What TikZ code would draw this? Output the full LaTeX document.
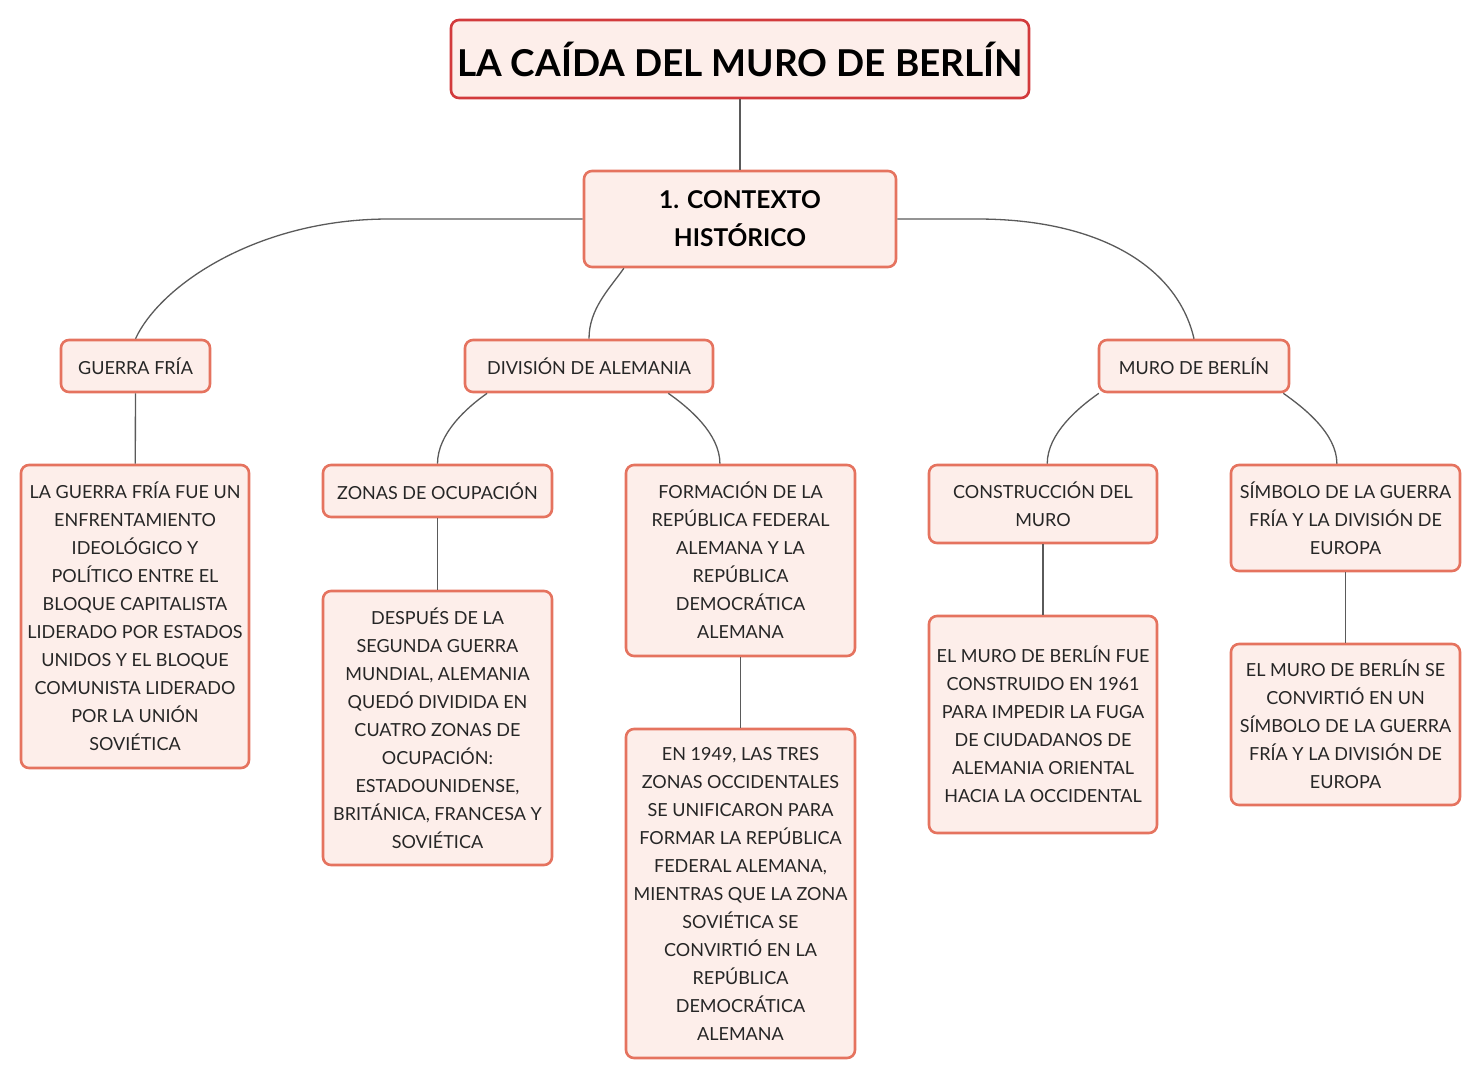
\documentclass[tikz,border=0pt]{standalone}
\usepackage{fontspec}
\setmainfont{Lato}
\usetikzlibrary{arrows}
\definecolor{boxfill}{HTML}{FDEEEA}
\definecolor{boxline}{HTML}{E5735F}
\definecolor{titleline}{HTML}{D23A3C}
\definecolor{linkgray}{HTML}{5A5A5A}

\begin{document}
\begin{tikzpicture}[x=1pt,y=-1pt,
	mapbox/.style={draw=boxline, fill=boxfill, line width=2.6pt, rounded corners=8pt,
		align=center, inner sep=0pt, text=black!85, font=\fontsize{18}{28}\selectfont},
	link/.style={draw=linkgray, line width=1.3pt}]
	\useasboundingbox (0,0) rectangle (1481,1080);
	% title and first level
	\node[mapbox, draw=titleline, minimum width=578pt, minimum height=78pt, text=black,
		font=\fontsize{37}{44}\selectfont\bfseries] (title) at (740,59) {LA CAÍDA DEL MURO DE BERLÍN};
	\node[mapbox, minimum width=312pt, minimum height=96pt, text=black,
		font=\fontsize{24.5}{38}\selectfont\bfseries] (ctx) at (740,219) {1. CONTEXTO\\HISTÓRICO};
	% second level
	\node[mapbox, minimum width=149pt, minimum height=52pt] (gf) at (135.5,366) {GUERRA FRÍA};
	\node[mapbox, minimum width=248pt, minimum height=52pt] (div) at (589,366) {DIVISIÓN DE ALEMANIA};
	\node[mapbox, minimum width=190pt, minimum height=52pt] (muro) at (1194,366) {MURO DE BERLÍN};
	% third level
	\node[mapbox, minimum width=228pt, minimum height=303pt] (gftxt) at (135,616.5)
		{LA GUERRA FRÍA FUE UN\\ENFRENTAMIENTO\\IDEOLÓGICO Y\\POLÍTICO ENTRE EL\\BLOQUE CAPITALISTA\\LIDERADO POR ESTADOS\\UNIDOS Y EL BLOQUE\\COMUNISTA LIDERADO\\POR LA UNIÓN\\SOVIÉTICA};
	\node[mapbox, minimum width=229pt, minimum height=52pt] (zonas) at (437.5,491) {ZONAS DE OCUPACIÓN};
	\node[mapbox, minimum width=229pt, minimum height=191pt] (form) at (740.5,560.5)
		{FORMACIÓN DE LA\\REPÚBLICA FEDERAL\\ALEMANA Y LA\\REPÚBLICA\\DEMOCRÁTICA\\ALEMANA};
	\node[mapbox, minimum width=228pt, minimum height=78pt] (cons) at (1043,504) {CONSTRUCCIÓN DEL\\MURO};
	\node[mapbox, minimum width=229pt, minimum height=106pt] (simb) at (1345.5,518)
		{SÍMBOLO DE LA GUERRA\\FRÍA Y LA DIVISIÓN DE\\EUROPA};
	% fourth level
	\node[mapbox, minimum width=229pt, minimum height=274pt] (desp) at (437.5,728)
		{DESPUÉS DE LA\\SEGUNDA GUERRA\\MUNDIAL, ALEMANIA\\QUEDÓ DIVIDIDA EN\\CUATRO ZONAS DE\\OCUPACIÓN:\\ESTADOUNIDENSE,\\BRITÁNICA, FRANCESA Y\\SOVIÉTICA};
	\node[mapbox, minimum width=229pt, minimum height=329pt] (tres) at (740.5,893.5)
		{EN 1949, LAS TRES\\ZONAS OCCIDENTALES\\SE UNIFICARON PARA\\FORMAR LA REPÚBLICA\\FEDERAL ALEMANA,\\MIENTRAS QUE LA ZONA\\SOVIÉTICA SE\\CONVIRTIÓ EN LA\\REPÚBLICA\\DEMOCRÁTICA\\ALEMANA};
	\node[mapbox, minimum width=228pt, minimum height=217pt] (fuga) at (1043,724.5)
		{EL MURO DE BERLÍN FUE\\CONSTRUIDO EN 1961\\PARA IMPEDIR LA FUGA\\DE CIUDADANOS DE\\ALEMANIA ORIENTAL\\HACIA LA OCCIDENTAL};
	\node[mapbox, minimum width=229pt, minimum height=161pt] (conv) at (1345.5,724.5)
		{EL MURO DE BERLÍN SE\\CONVIRTIÓ EN UN\\SÍMBOLO DE LA GUERRA\\FRÍA Y LA DIVISIÓN DE\\EUROPA};
	% connectors
	\draw[link] (ctx.west) -- ++(-194,0) to[out=180, in=65, out distance=130pt, in distance=60pt] (gf.north);
	\draw[link] (ctx.east) -- ++(80,0) to[out=0, in=103, out distance=120pt, in distance=75pt] (muro.north);
	\path[link]
	(title) edge (ctx)
	(ctx.203) edge[out=235, in=90, out distance=25pt, in distance=30pt] (div.north)
	(gf) edge (gftxt)
	(div.195) edge[out=215, in=90, out distance=25pt, in distance=30pt] (zonas.north)
	(div.341) edge[out=325, in=90, out distance=25pt, in distance=30pt] (form.102)
	(zonas) edge (desp)
	(form) edge (tres)
	(muro.196) edge[out=215, in=90, out distance=25pt, in distance=30pt] (cons.84)
	(muro.343) edge[out=325, in=90, out distance=25pt, in distance=30pt] (simb.99)
	(cons) edge (fuga)
	(simb) edge (conv);
\end{tikzpicture}
\end{document}
